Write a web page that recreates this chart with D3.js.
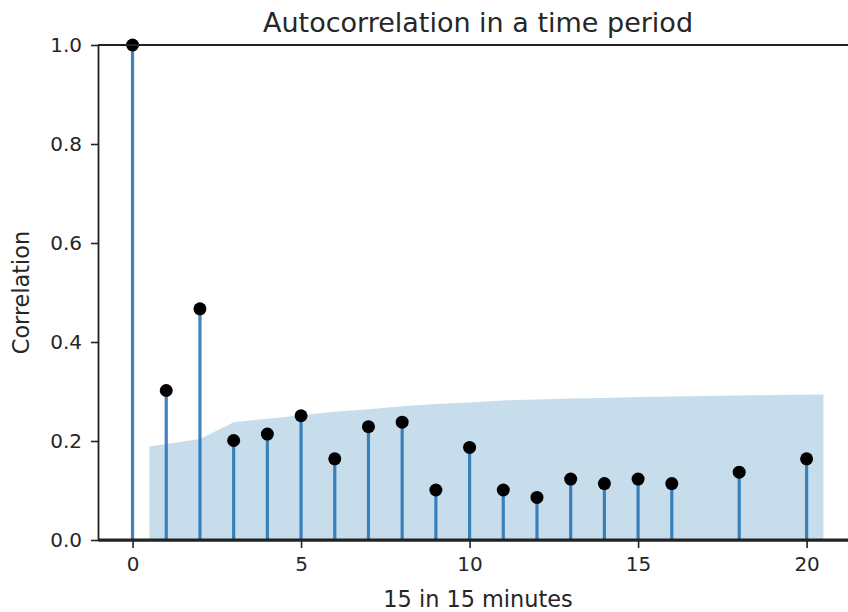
<!DOCTYPE html>
<html>
<head>
<meta charset="utf-8">
<script src="https://cdn.jsdelivr.net/npm/d3@7"></script>
<style>
  body { margin: 0; background: #fff; }
  svg { display: block; font-family: 'DejaVu Sans', sans-serif; }
</style>
</head>
<body>
<svg id="chart" width="848" height="612"></svg>
<script>
/* globals d3 */
var lags = [0, 1, 2, 3, 4, 5, 6, 7, 8, 9, 10, 11, 12, 13, 14, 15, 16, 18, 20];
var acfValues = [1.0, 0.302, 0.467, 0.201, 0.214, 0.251, 0.164, 0.229, 0.238, 0.101,
  0.187, 0.101, 0.086, 0.123, 0.114, 0.123, 0.114, 0.137, 0.164];

// upper edge of the confidence band, lags 1..20
var bandLags = [1, 2, 3, 4, 5, 6, 7, 8, 9, 10, 11, 12, 13, 14, 15, 16, 17, 18, 19, 20];
var bandUpper = [0.189, 0.204, 0.238, 0.245, 0.252, 0.259, 0.264, 0.270, 0.275, 0.278,
  0.282, 0.284, 0.286, 0.287, 0.289, 0.290, 0.291, 0.292, 0.293, 0.294];

var xTicks = [0, 5, 10, 15, 20];
var yTicks = [0, 0.2, 0.4, 0.6, 0.8, 1.0];

(function () {
  var svg = d3.select('#chart');
  var m = { left: 98, right: 858, top: 45, bottom: 540 };

  var x = d3.scaleLinear().domain([-1.025, 21.525]).range([m.left, m.right]);
  var y = d3.scaleLinear().domain([0, 1]).range([m.bottom, m.top]);

  svg.append('clipPath').attr('id', 'plot-clip')
    .append('rect')
    .attr('x', m.left).attr('y', m.top)
    .attr('width', m.right - m.left).attr('height', m.bottom - m.top);

  var plot = svg.append('g').attr('clip-path', 'url(#plot-clip)');

  // stems
  plot.selectAll('line.stem')
    .data(lags)
    .enter().append('line')
    .attr('class', 'stem')
    .attr('x1', function (d) { return x(d); })
    .attr('x2', function (d) { return x(d); })
    .attr('y1', y(0))
    .attr('y2', function (d, i) { return y(acfValues[i]); })
    .attr('stroke', '#3f83bf')
    .attr('stroke-width', 3.2);

  // markers
  svg.selectAll('circle.pt')
    .data(lags)
    .enter().append('circle')
    .attr('class', 'pt')
    .attr('cx', function (d) { return x(d); })
    .attr('cy', function (d, i) { return y(acfValues[i]); })
    .attr('r', 6.5)
    .attr('fill', '#000');

  // confidence band, ends pushed out by half a lag
  var bandX = bandLags.slice();
  bandX[0] -= 0.5;
  bandX[bandX.length - 1] += 0.5;

  var area = d3.area()
    .x(function (d, i) { return x(bandX[i]); })
    .y0(function (d) { return y(-d); })
    .y1(function (d) { return y(d); });

  plot.append('path')
    .datum(bandUpper)
    .attr('d', area)
    .attr('fill', '#1f77b4')
    .attr('fill-opacity', 0.25);

  // axes
  var yAxis = d3.axisLeft(y)
    .tickValues(yTicks)
    .tickFormat(d3.format('.1f'))
    .tickSize(7)
    .tickSizeOuter(0)
    .tickPadding(9);

  var xAxis = d3.axisBottom(x)
    .tickValues(xTicks)
    .tickFormat(d3.format('d'))
    .tickSize(8)
    .tickSizeOuter(0)
    .tickPadding(9);

  var gy = svg.append('g')
    .attr('transform', 'translate(' + m.left + ',0)')
    .call(yAxis);

  var gx = svg.append('g')
    .attr('transform', 'translate(0,' + m.bottom + ')')
    .call(xAxis);

  [gx, gy].forEach(function (g) {
    g.attr('font-family', 'DejaVu Sans').attr('font-size', 20);
    g.selectAll('.tick line').attr('stroke', '#222').attr('stroke-width', 1.6);
    g.selectAll('.tick text').attr('fill', '#262626');
    g.select('.domain').attr('stroke', '#222').attr('stroke-width', 1.8);
  });

  // top spine and zero line
  svg.append('line')
    .attr('x1', m.left).attr('x2', m.right)
    .attr('y1', m.top).attr('y2', m.top)
    .attr('stroke', '#222').attr('stroke-width', 1.8);

  svg.append('line')
    .attr('x1', m.left).attr('x2', m.right)
    .attr('y1', y(0)).attr('y2', y(0))
    .attr('stroke', '#222').attr('stroke-width', 3);

  // titles
  svg.append('text')
    .attr('x', (m.left + m.right) / 2)
    .attr('y', 32)
    .attr('text-anchor', 'middle')
    .attr('font-size', 27)
    .attr('fill', '#262626')
    .text('Autocorrelation in a time period');

  svg.append('text')
    .attr('x', (m.left + m.right) / 2)
    .attr('y', 607)
    .attr('text-anchor', 'middle')
    .attr('font-size', 22.4)
    .attr('fill', '#262626')
    .text('15 in 15 minutes');

  svg.append('text')
    .attr('transform', 'translate(29,' + ((m.top + m.bottom) / 2) + ') rotate(-90)')
    .attr('text-anchor', 'middle')
    .attr('font-size', 22.4)
    .attr('fill', '#262626')
    .text('Correlation');
})();
</script>
</body>
</html>
